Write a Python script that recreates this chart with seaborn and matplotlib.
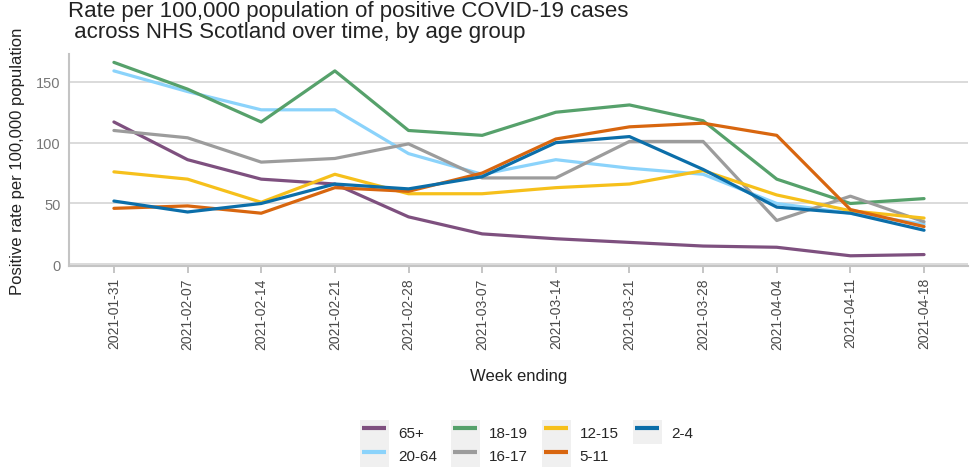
import seaborn as sns
import matplotlib.pyplot as plt
import pandas as pd
from matplotlib.patches import Patch
from matplotlib.lines import Line2D
from matplotlib.legend_handler import HandlerTuple

weeks = ["2021-01-31", "2021-02-07", "2021-02-14", "2021-02-21", "2021-02-28", "2021-03-07",
         "2021-03-14", "2021-03-21", "2021-03-28", "2021-04-04", "2021-04-11", "2021-04-18"]
groups = ["65+", "20-64", "18-19", "16-17", "12-15", "5-11", "2-4"]

rate_65plus = [117, 86, 70, 66, 39, 25, 21, 18, 15, 14, 7, 8]
rate_20_64 = [159, 142, 127, 127, 91, 74, 86, 79, 74, 50, 42, 33]
rate_18_19 = [166, 144, 117, 159, 110, 106, 125, 131, 118, 70, 50, 54]
rate_16_17 = [110, 104, 84, 87, 99, 71, 71, 101, 101, 36, 56, 35]
rate_12_15 = [76, 70, 51, 74, 58, 58, 63, 66, 77, 57, 44, 38]
rate_5_11 = [46, 48, 42, 63, 60, 75, 103, 113, 116, 106, 45, 31]
rate_2_4 = [52, 43, 50, 66, 62, 72, 100, 105, 78, 47, 42, 28]

colours = ["#7e507f", "#8bd3fb", "#56a16b", "#9c9c9c", "#f6c01b", "#d8660f", "#0b6ea9"]
palette = dict(zip(groups, colours))

series = [rate_65plus, rate_20_64, rate_18_19, rate_16_17, rate_12_15, rate_5_11, rate_2_4]
rows = []
for g, vals in zip(groups, series):
    for i, v in enumerate(vals):
        rows.append({"week": i, "group": g, "rate": v})
df = pd.DataFrame(rows)

sns.set_style("white")
plt.rcParams['font.family'] = ['Liberation Sans', 'DejaVu Sans']

fig = plt.figure(figsize=(9.8, 4.77), dpi=100)
ax = fig.add_axes([0.0704, 0.44, 0.9176, 0.445])
sns.lineplot(data=df, x="week", y="rate", hue="group", palette=palette,
             linewidth=2.3, ax=ax, legend=False)

ax.set_xlim(-0.61, 11.6)
ax.set_ylim(-1.5, 173)
ax.set_xticks(range(len(weeks)))
ax.set_xticklabels(weeks, rotation=90, fontsize=10, color="#4a4a4a")
ax.set_yticks([0, 50, 100, 150])
ax.tick_params(axis="y", labelsize=10.5, labelcolor="#777777", length=0, pad=6)
ax.tick_params(axis="x", length=5, width=1.2, color="#bbbbbb", bottom=True, pad=3)
ax.grid(axis="y", color="#d4d4d4", linewidth=1.2)
for s in ["top", "right"]:
    ax.spines[s].set_visible(False)
for s in ["left", "bottom"]:
    ax.spines[s].set_color("#c4c4c4")
    ax.spines[s].set_linewidth(1.5)
ax.set_xlabel("Week ending", fontsize=12, color="#222222", labelpad=14)
ax.set_ylabel("Positive rate per 100,000 population", fontsize=12, color="#222222", labelpad=8)

fig.text(0.069, 0.998, "Rate per 100,000 population of positive COVID-19 cases\n across NHS Scotland over time, by age group",
         fontsize=16, color="#222222", va="top", ha="left", linespacing=1.0)

handles = [(Patch(facecolor="#f0f0f0", edgecolor="none"),
            Line2D([], [], color=palette[g], marker="_", markersize=17,
                   markeredgewidth=3, linestyle="none")) for g in groups]
fig.legend(handles, groups, handler_map={tuple: HandlerTuple(ndivide=1, pad=0)},
           loc="center", bbox_to_anchor=(0.537, 0.068), ncol=4, frameon=False,
           fontsize=11, handlelength=1.9, handleheight=2.0, labelspacing=0.0,
           columnspacing=0.9, handletextpad=0.6, borderpad=0)

fig.savefig("out.png", dpi=100)
